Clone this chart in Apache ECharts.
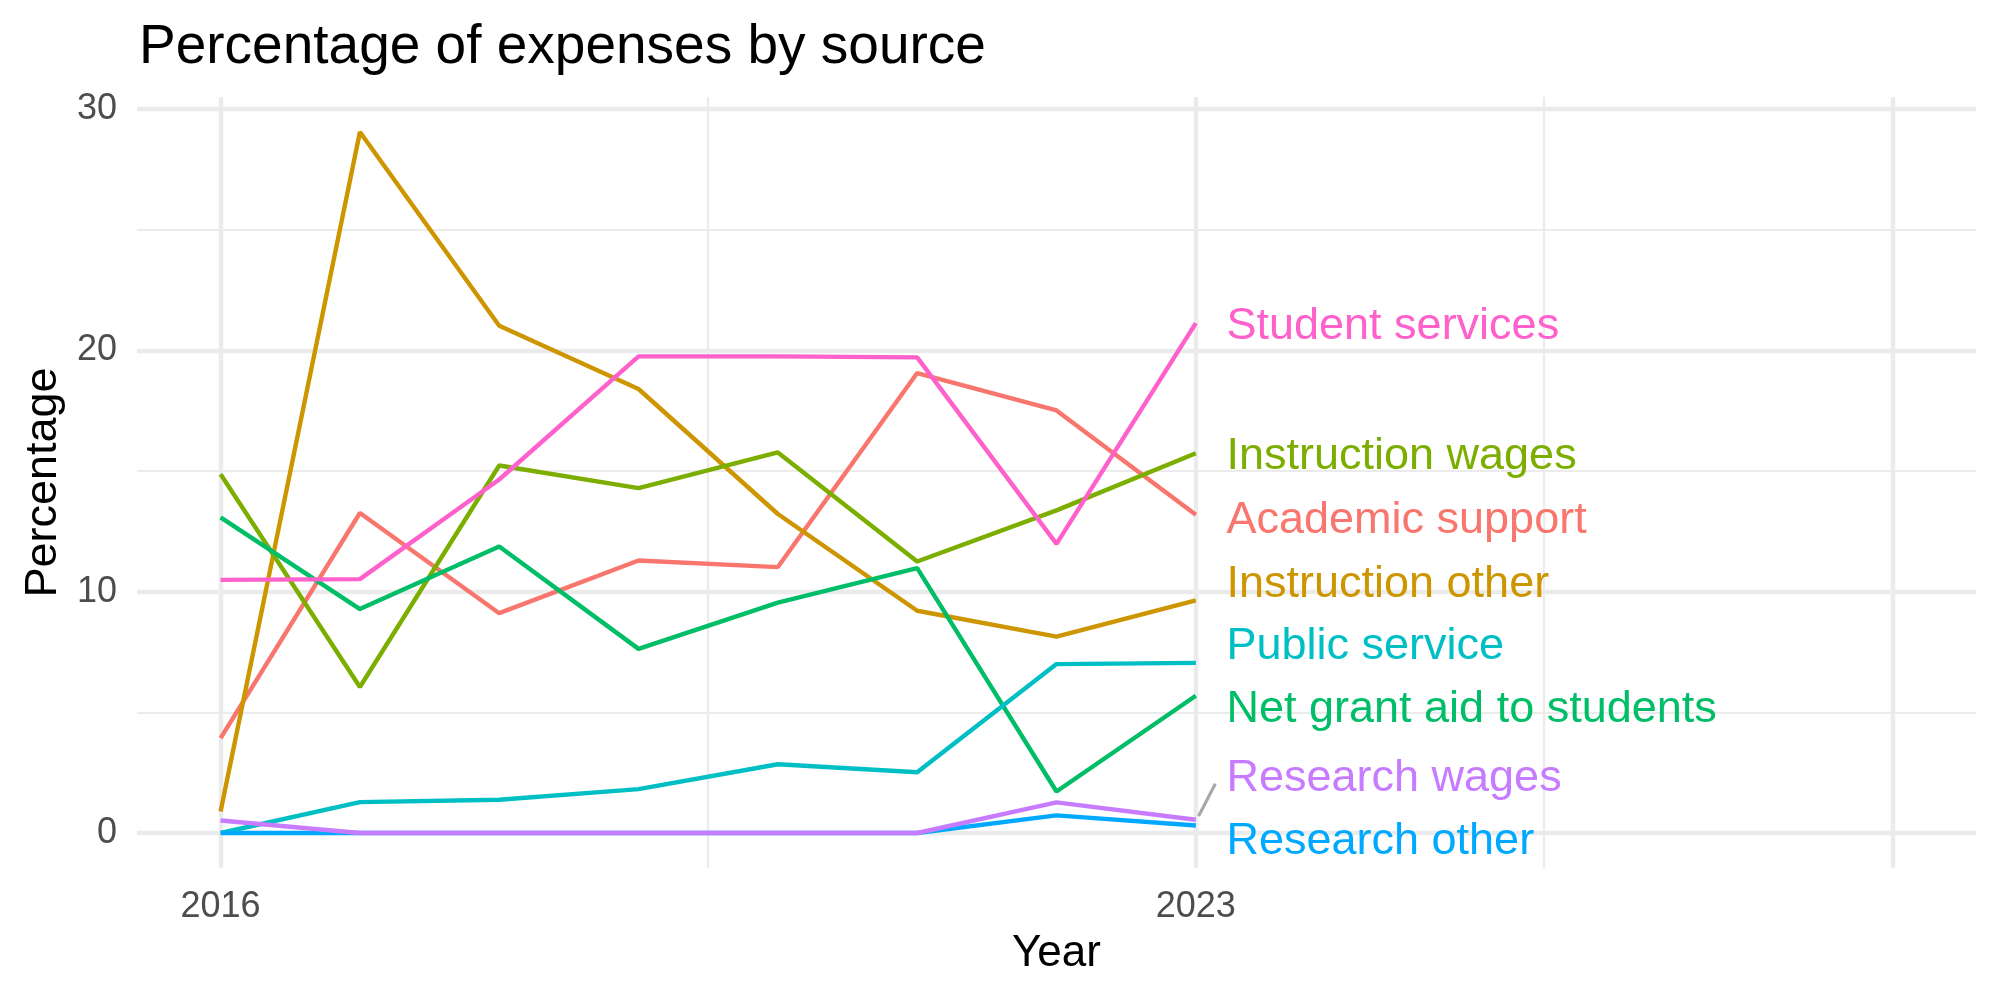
<!DOCTYPE html>
<html>
<head>
<meta charset="utf-8">
<title>Percentage of expenses by source</title>
<script src="https://cdn.jsdelivr.net/npm/echarts@6/dist/echarts.min.js"></script>
<style>
  html, body { margin: 0; padding: 0; background: #fff; }
  #chart { width: 2000px; height: 1000px; }
</style>
</head>
<body>
<div id="chart"></div>
<script>
// data
const years = [2016, 2017, 2018, 2019, 2020, 2021, 2022, 2023];
const categories = ['Academic support', 'Instruction other', 'Instruction wages', 'Net grant aid to students',
  'Public service', 'Research other', 'Research wages', 'Student services'];
const academicSupport = [3.93, 13.26, 9.11, 11.29, 11.02, 19.06, 17.51, 13.19];
const instructionOther = [0.89, 29.05, 21.02, 18.4, 13.22, 9.21, 8.14, 9.64];
const instructionWages = [14.87, 6.05, 15.23, 14.29, 15.77, 11.25, 13.37, 15.74];
const netGrantAid = [13.08, 9.28, 11.87, 7.63, 9.55, 10.98, 1.72, 5.69];
const publicService = [0, 1.28, 1.38, 1.82, 2.85, 2.52, 7.0, 7.05];
const researchOther = [0, 0, 0, 0, 0, 0, 0.73, 0.31];
const researchWages = [0.52, 0, 0, 0, 0, 0, 1.27, 0.55];
const studentServices = [10.49, 10.52, 14.65, 19.75, 19.75, 19.71, 11.98, 21.13];
const values = [academicSupport, instructionOther, instructionWages, netGrantAid,
  publicService, researchOther, researchWages, studentServices];

// where the repelled end labels sit (data units)
const labelYear = 2023.22;
const labelY = [13.12, 10.48, 15.76, 5.3, 7.89, -0.2, 2.44, 21.16];

// tick labels and grid lines
const xTicks = [2016, 2023];
const xMajor = [2016, 2023, 2028];
const xMinor = [2019.5, 2025.5];
const yTicks = [0, 10, 20, 30];
const yMinor = [5, 15, 25];

const colors = ['#F8766D', '#CD9600', '#7CAE00', '#00BE67', '#00BFC4', '#00A9FF', '#C77CFF', '#FF61CC'];
const font = '"Liberation Sans", Arial, Helvetica, sans-serif';

const chart = echarts.init(document.getElementById('chart'));

const gridLine = (w) => ({ width: w, color: '#EBEBEB', type: 'solid' });
const gridSeries = {
  type: 'line',
  data: [],
  silent: true,
  markLine: {
    silent: true,
    z: 1,
    animation: false,
    symbol: ['none', 'none'],
    label: { show: false },
    emphasis: { disabled: true },
    data: [
      ...yMinor.map(v => ({ yAxis: v, lineStyle: gridLine(2.2) })),
      ...xMinor.map(v => ({ xAxis: v, lineStyle: gridLine(2.2) })),
      ...yTicks.map(v => ({ yAxis: v, lineStyle: gridLine(4.4) })),
      ...xMajor.map(v => ({ xAxis: v, lineStyle: gridLine(4.4) }))
    ]
  }
};

const lineSeries = categories.map((name, i) => ({
  name: name,
  type: 'line',
  data: years.map((y, j) => [y, values[i][j]]),
  symbol: 'none',
  silent: true,
  z: 3,
  lineStyle: { color: colors[i], width: 4.4 },
  itemStyle: { color: colors[i] }
}));

const labelSeries = categories.map((name, i) => ({
  type: 'scatter',
  data: [[labelYear, labelY[i]]],
  symbolSize: 0.01,
  silent: true,
  z: 4,
  itemStyle: { color: colors[i], opacity: 1 },
  label: {
    show: true,
    position: 'right',
    distance: 0,
    offset: [0, 4],
    formatter: name,
    color: colors[i],
    opacity: 1,
    fontSize: 45,
    fontFamily: font,
    verticalAlign: 'middle'
  }
}));

// ggrepel connector for the one label that moved far from its line end
const rwIdx = categories.indexOf('Research wages');
const segmentSeries = {
  type: 'line',
  data: [[years[years.length - 1] + 0.02, researchWages[researchWages.length - 1] + 0.15],
         [labelYear - 0.08, labelY[rwIdx] - 0.4]],
  symbol: 'none',
  silent: true,
  z: 3,
  lineStyle: { color: '#A8A8A8', width: 3.2 }
};

const option = {
  animation: false,
  backgroundColor: '#ffffff',
  title: {
    text: 'Percentage of expenses by source',
    left: 139,
    top: 20,
    padding: 0,
    textStyle: { fontSize: 55, fontWeight: 'normal', color: '#000', fontFamily: font }
  },
  grid: { left: 137, right: 24, top: 97, bottom: 132, containLabel: false },
  xAxis: {
    type: 'value',
    min: 2015.4,
    max: 2028.6,
    name: 'Year',
    nameLocation: 'middle',
    nameGap: 64,
    nameTextStyle: { fontSize: 44, color: '#000', fontFamily: font },
    axisLine: { show: false },
    axisTick: { show: false },
    splitLine: { show: false },
    axisLabel: {
      customValues: xTicks,
      formatter: v => String(v),
      color: '#4D4D4D',
      fontSize: 36,
      fontFamily: font,
      margin: 21
    }
  },
  yAxis: {
    type: 'value',
    min: -1.45,
    max: 30.5,
    name: 'Percentage',
    nameLocation: 'middle',
    nameGap: 70,
    nameTextStyle: { fontSize: 45, color: '#000', fontFamily: font },
    axisLine: { show: false },
    axisTick: { show: false },
    splitLine: { show: false },
    axisLabel: {
      customValues: yTicks,
      formatter: v => String(v),
      color: '#4D4D4D',
      fontSize: 36,
      fontFamily: font,
      margin: 20
    }
  },
  series: [gridSeries, ...lineSeries, segmentSeries, ...labelSeries]
};

chart.setOption(option);
</script>
</body>
</html>
